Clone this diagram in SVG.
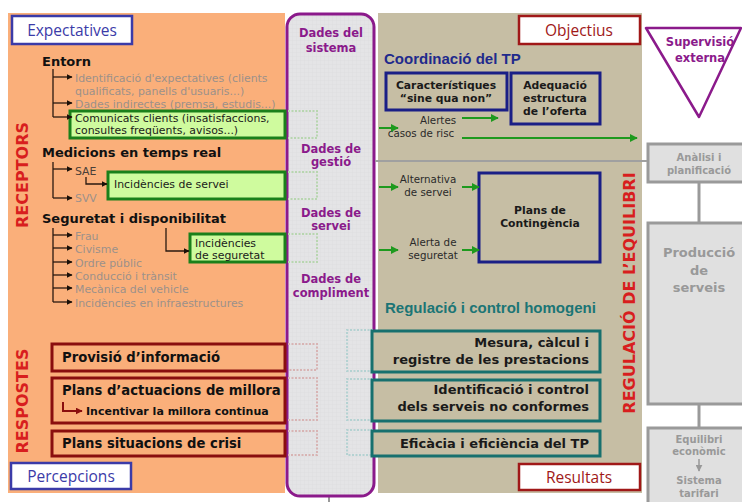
<svg xmlns="http://www.w3.org/2000/svg" width="742" height="502" viewBox="0 0 742 502">
  <defs>
    <style>
      .panel-l { fill: #FAAF7A; }
      .panel-r { fill: #C6BEA4; }
      .hdr { font-family: "Open Sans", "DejaVu Sans", sans-serif; font-size: 15.5px; text-anchor: middle; }
      .hb { fill: #fff; stroke: #3B3BA8; stroke-width: 2.5; }
      .hr { fill: #fff; stroke: #A01818; stroke-width: 2.5; }
      .cat { font-family: "DejaVu Sans", sans-serif; font-weight: bold; font-size: 13px; fill: #111; }
      .item { font-family: "DejaVu Sans", sans-serif; font-size: 10.9px; fill: #9C918A; }
      .dark { font-family: "DejaVu Sans", sans-serif; font-size: 10.9px; fill: #1A1A1A; }
      .tree { fill: none; stroke: #2A1A10; stroke-width: 1.3; }
      .gbox { fill: #CFFB9E; stroke: #1A801A; stroke-width: 3; }
      .gdot { fill: none; stroke: #B8D6B0; stroke-width: 2; stroke-dasharray: 2 1.5; }
      .rdot { fill: none; stroke: #D8B4B4; stroke-width: 2; stroke-dasharray: 2 1.5; }
      .tdot { fill: none; stroke: #B4D2D2; stroke-width: 2; stroke-dasharray: 2 1.5; }
      .rbox { fill: #FAAF7A; stroke: #8A0E0E; stroke-width: 3; }
      .resp { font-family: "DejaVu Sans", sans-serif; font-weight: bold; font-size: 13.2px; fill: #111; }
      .vlab { font-family: "DejaVu Sans", sans-serif; font-weight: bold; font-size: 16px; fill: #D81E1E; text-anchor: middle; }
      .col { font-family: "DejaVu Sans", sans-serif; font-weight: bold; font-size: 11.5px; fill: #8B1A8B; text-anchor: middle; }
      .nbox { fill: #C6BEA4; stroke: #1A1F86; stroke-width: 3; }
      .nt { font-family: "DejaVu Sans", sans-serif; font-weight: bold; font-size: 10.8px; fill: #1A1A1A; text-anchor: middle; }
      .small { font-family: "DejaVu Sans", sans-serif; font-size: 10.3px; fill: #2A2A2A; text-anchor: middle; }
      .garr { stroke: #1E9A1E; stroke-width: 2; fill: none; }
      .tbox { fill: #C6BEA4; stroke: #17706E; stroke-width: 3; }
      .tt { font-family: "DejaVu Sans", sans-serif; font-weight: bold; font-size: 13px; fill: #1A1A1A; text-anchor: end; }
      .grey { fill: #E0E0E0; stroke: #9A9A9A; stroke-width: 3; }
      .gt { font-family: "DejaVu Sans", sans-serif; font-weight: bold; fill: #999; text-anchor: middle; }
    </style>
    <marker id="ab" viewBox="0 0 10 10" refX="9" refY="5" markerWidth="6" markerHeight="6" orient="auto" markerUnits="userSpaceOnUse">
      <path d="M0,0 L10,5 L0,10 z" fill="#1A1008"/>
    </marker>
    <marker id="ag" viewBox="0 0 10 10" refX="9" refY="5" markerWidth="8" markerHeight="8" orient="auto" markerUnits="userSpaceOnUse">
      <path d="M0,0 L10,5 L0,10 z" fill="#1E9A1E"/>
    </marker>
    <marker id="ar" viewBox="0 0 10 10" refX="9" refY="5" markerWidth="7" markerHeight="7" orient="auto" markerUnits="userSpaceOnUse">
      <path d="M0,0 L10,5 L0,10 z" fill="#8A0E0E"/>
    </marker>
    <marker id="agr" viewBox="0 0 10 10" refX="9" refY="5" markerWidth="7" markerHeight="7" orient="auto" markerUnits="userSpaceOnUse">
      <path d="M0,0 L10,5 L0,10 z" fill="#999"/>
    </marker>
    <pattern id="grid" width="4" height="4" patternUnits="userSpaceOnUse">
      <rect width="4" height="4" fill="#E4E4E6"/>
      <path d="M0,0 H4 M0,0 V4" stroke="#DADADC" stroke-width="0.6"/>
    </pattern>
  </defs>

  <rect width="742" height="502" fill="#fff"/>

  <!-- background panels -->
  <rect class="panel-l" x="8" y="13" width="277" height="480"/>
  <rect class="panel-r" x="378" y="13" width="264" height="480"/>

  <!-- system data column -->
  <g id="dades-sistema">
    <line x1="329" y1="495" x2="329" y2="502" stroke="#999" stroke-width="2"/>
    <rect x="287" y="14" width="87" height="482" rx="13" fill="url(#grid)" stroke="#8B1A8B" stroke-width="3"/>
    <text class="col" x="331" y="37">Dades del</text>
    <text class="col" x="331" y="52">sistema</text>
    <text class="col" x="331" y="153">Dades de</text>
    <text class="col" x="331" y="166">gestió</text>
    <text class="col" x="331" y="217">Dades de</text>
    <text class="col" x="331" y="230">servei</text>
    <text class="col" x="331" y="283">Dades de</text>
    <text class="col" x="331" y="297">compliment</text>
    <!-- faded continuations of the boxes crossing the column -->
    <path class="gdot" d="M288,111 H317 V138 H288"/>
    <path class="gdot" d="M288,172 H317 V199 H288"/>
    <path class="gdot" d="M288,234 H317 V262 H288"/>
    <path class="rdot" d="M288,344 H317 V370 H288"/>
    <path class="rdot" d="M288,378 H317 V420 H288"/>
    <path class="rdot" d="M288,431 H317 V455 H288"/>
    <path class="tdot" d="M373,330 H347 V371 H373"/>
    <path class="tdot" d="M373,379 H347 V420 H373"/>
    <path class="tdot" d="M373,430 H347 V455 H373"/>
  </g>

  <!-- corner headers -->
  <g id="expectatives">
    <rect class="hb" x="12" y="16" width="120" height="28"/>
    <text class="hdr" x="72" y="36" fill="#3B3BA8">Expectatives</text>
  </g>
  <g id="percepcions">
    <rect class="hb" x="11" y="463" width="120" height="26"/>
    <text class="hdr" x="71" y="482" fill="#3B3BA8">Percepcions</text>
  </g>
  <g id="objectius">
    <rect class="hr" x="519" y="16" width="121" height="28"/>
    <text class="hdr" x="579" y="36" fill="#A01818">Objectius</text>
  </g>
  <g id="resultats">
    <rect class="hr" x="519" y="464" width="121" height="26"/>
    <text class="hdr" x="579" y="483" fill="#A01818">Resultats</text>
  </g>

  <!-- vertical section labels -->
  <text class="vlab" transform="translate(28,175) rotate(-90)">RECEPTORS</text>
  <text class="vlab" transform="translate(28,401) rotate(-90)">RESPOSTES</text>
  <text class="vlab" transform="translate(635,293) rotate(-90)">REGULACIÓ DE L’EQUILIBRI</text>

  <!-- receptors: entorn -->
  <g id="entorn">
    <text class="cat" x="42" y="66">Entorn</text>
    <path class="tree" d="M53,69 V117"/>
    <text class="item" x="75" y="82">Identificació d'expectatives (clients</text>
    <text class="item" x="75" y="95">qualificats, panells d'usuaris...)</text>
    <text class="item" x="75" y="108">Dades indirectes (premsa, estudis...)</text>
  </g>
  <g id="comunicats-clients">
    <rect class="gbox" x="70" y="111" width="215" height="27"/>
    <text class="dark" x="75" y="122">Comunicats clients (insatisfaccions,</text>
    <text class="dark" x="75" y="134">consultes freqüents, avisos...)</text>
  </g>

  <!-- receptors: medicions -->
  <g id="medicions">
    <text class="cat" x="42" y="157">Medicions en temps real</text>
    <path class="tree" d="M53,162 V198"/>
    <text class="item" x="75" y="175" style="fill:#4A4038">SAE</text>
    <text class="item" x="75" y="202">SVV</text>
  </g>
  <g id="incidencies-servei">
    <rect class="gbox" x="108" y="172" width="177" height="27"/>
    <text class="dark" x="114" y="188">Incidències de servei</text>
  </g>

  <!-- receptors: seguretat -->
  <g id="seguretat">
    <text class="cat" x="42" y="223">Seguretat i disponibilitat</text>
    <path class="tree" d="M53,228 V302"/>
    <text class="item" x="75" y="240">Frau</text>
    <text class="item" x="75" y="253">Civisme</text>
    <text class="item" x="75" y="267">Ordre públic</text>
    <text class="item" x="75" y="280">Conducció i trànsit</text>
    <text class="item" x="75" y="293">Mecànica del vehicle</text>
    <text class="item" x="75" y="307">Incidències en infraestructures</text>
  </g>
  <g id="incidencies-seguretat">
    <rect class="gbox" x="190" y="234" width="95" height="28"/>
    <text class="dark" x="195" y="247">Incidències</text>
    <text class="dark" x="195" y="259">de seguretat</text>
  </g>

  <!-- respostes -->
  <g id="provisio">
    <rect class="rbox" x="52" y="344" width="233" height="27"/>
    <text class="resp" x="62" y="362">Provisió d’informació</text>
  </g>
  <g id="plans-millora">
    <rect class="rbox" x="52" y="378" width="233" height="45"/>
    <text class="resp" x="62" y="395">Plans d’actuacions de millora</text>
    <text class="resp" x="86" y="415" style="font-size:11px">Incentivar la millora continua</text>
  </g>
  <g id="plans-crisi">
    <rect class="rbox" x="52" y="431" width="233" height="25"/>
    <text class="resp" x="62" y="448">Plans situacions de crisi</text>
  </g>

  <!-- coordinació del TP -->
  <text x="384" y="64" font-family="Liberation Sans, Arial, sans-serif" font-weight="bold" font-size="15" fill="#1F2A8C">Coordinació del TP</text>
  <g id="caracteristiques">
    <rect class="nbox" x="386" y="73" width="121" height="37"/>
    <text class="nt" x="446" y="89">Característiques</text>
    <text class="nt" x="446" y="102">“sine qua non”</text>
  </g>
  <g id="adequacio">
    <rect class="nbox" x="511" y="73" width="89" height="51"/>
    <text class="nt" x="555" y="89">Adequació</text>
    <text class="nt" x="555" y="102">estructura</text>
    <text class="nt" x="555" y="115">de l’oferta</text>
  </g>
  <g id="alertes">
    <text class="small" x="438" y="124">Alertes</text>
    <text class="small" x="421" y="137">casos de risc</text>
  </g>
  <g id="alternativa">
    <text class="small" x="428" y="183">Alternativa</text>
    <text class="small" x="428" y="196">de servei</text>
  </g>
  <g id="alerta-seguretat">
    <text class="small" x="433" y="246">Alerta de</text>
    <text class="small" x="433" y="259">seguretat</text>
  </g>
  <g id="plans-contingencia">
    <rect class="nbox" x="479" y="173" width="121" height="89"/>
    <text class="nt" x="540" y="214">Plans de</text>
    <text class="nt" x="540" y="227">Contingència</text>
  </g>

  <!-- regulació i control -->
  <text x="385" y="313" font-family="Liberation Sans, Arial, sans-serif" font-weight="bold" font-size="15" fill="#1B7575">Regulació i control homogeni</text>
  <g id="mesura">
    <rect class="tbox" x="372" y="331" width="228" height="41"/>
    <text class="tt" x="589" y="347">Mesura, càlcul i</text>
    <text class="tt" x="589" y="364">registre de les prestacions</text>
  </g>
  <g id="identificacio">
    <rect class="tbox" x="372" y="380" width="228" height="41"/>
    <text class="tt" x="589" y="394">Identificació i control</text>
    <text class="tt" x="589" y="411">dels serveis no conformes</text>
  </g>
  <g id="eficacia">
    <rect class="tbox" x="372" y="431" width="228" height="25"/>
    <text class="tt" x="589" y="448">Eficàcia i eficiència del TP</text>
  </g>

  <!-- external supervision and service cycle -->
  <g id="supervisio">
    <path d="M646,28 H741 L699,117 z" fill="#fff" stroke="#8B1A8B" stroke-width="2.5" stroke-linejoin="round"/>
    <text class="col" x="700" y="46" style="font-size:11.5px">Supervisió</text>
    <text class="col" x="700" y="62" style="font-size:11.5px">externa</text>
  </g>
  <g id="analisi">
    <rect class="grey" x="648" y="144" width="98" height="38"/>
    <text class="gt" x="699" y="161" font-size="10">Anàlisi i</text>
    <text class="gt" x="699" y="174" font-size="10">planificació</text>
  </g>
  <g id="produccio">
    <rect class="grey" x="648" y="223" width="98" height="181"/>
    <text class="gt" x="699" y="257" font-size="13">Producció</text>
    <text class="gt" x="699" y="275" font-size="13">de</text>
    <text class="gt" x="699" y="292" font-size="13">serveis</text>
  </g>
  <g id="equilibri">
    <rect class="grey" x="648" y="428" width="98" height="80"/>
    <text class="gt" x="699" y="443" font-size="10">Equilibri</text>
    <text class="gt" x="699" y="455" font-size="10">econòmic</text>
    <text class="gt" x="699" y="484" font-size="10">Sistema</text>
    <text class="gt" x="699" y="497" font-size="10">tarifari</text>
  </g>

  <!-- connectors -->
  <g id="connectors">
    <!-- receptor tree arrows -->
    <path class="tree" d="M53,77 H72" marker-end="url(#ab)"/>
    <path class="tree" d="M53,103 H72" marker-end="url(#ab)"/>
    <path class="tree" d="M53,117 H72" marker-end="url(#ab)"/>
    <path class="tree" d="M53,169 H72" marker-end="url(#ab)"/>
    <path class="tree" d="M86,177 V184 H107" marker-end="url(#ab)"/>
    <path class="tree" d="M53,198 H72" marker-end="url(#ab)"/>
    <path class="tree" d="M53,235 H72" marker-end="url(#ab)"/>
    <path class="tree" d="M53,248 H72" marker-end="url(#ab)"/>
    <path class="tree" d="M53,262 H72" marker-end="url(#ab)"/>
    <path class="tree" d="M53,275 H72" marker-end="url(#ab)"/>
    <path class="tree" d="M53,288 H72" marker-end="url(#ab)"/>
    <path class="tree" d="M53,302 H72" marker-end="url(#ab)"/>
    <path class="tree" d="M166,228 V251 H189" marker-end="url(#ab)"/>
    <path d="M63,402 V411 H82" fill="none" stroke="#8A0E0E" stroke-width="2" marker-end="url(#ar)"/>

    <!-- green alert arrows -->
    <line class="garr" x1="379" y1="128" x2="398" y2="128" marker-end="url(#ag)"/>
    <line class="garr" x1="462" y1="118" x2="498" y2="118" marker-end="url(#ag)"/>
    <line class="garr" x1="462" y1="138" x2="637" y2="138" marker-end="url(#ag)"/>
    <line class="garr" x1="379" y1="187" x2="398" y2="187" marker-end="url(#ag)"/>
    <line class="garr" x1="462" y1="187" x2="479" y2="187" marker-end="url(#ag)"/>
    <line class="garr" x1="379" y1="250" x2="398" y2="250" marker-end="url(#ag)"/>
    <line class="garr" x1="462" y1="250" x2="479" y2="250" marker-end="url(#ag)"/>

    <!-- planning link -->
    <line x1="375" y1="161" x2="647" y2="161" stroke="#A0A0A0" stroke-width="2"/>
    <line x1="699" y1="182" x2="699" y2="222" stroke="#9A9A9A" stroke-width="3"/>
    <line x1="699" y1="404" x2="699" y2="427" stroke="#9A9A9A" stroke-width="3"/>
    <line x1="699" y1="459" x2="699" y2="471" stroke="#999" stroke-width="1.5" marker-end="url(#agr)"/>
  </g>
</svg>
